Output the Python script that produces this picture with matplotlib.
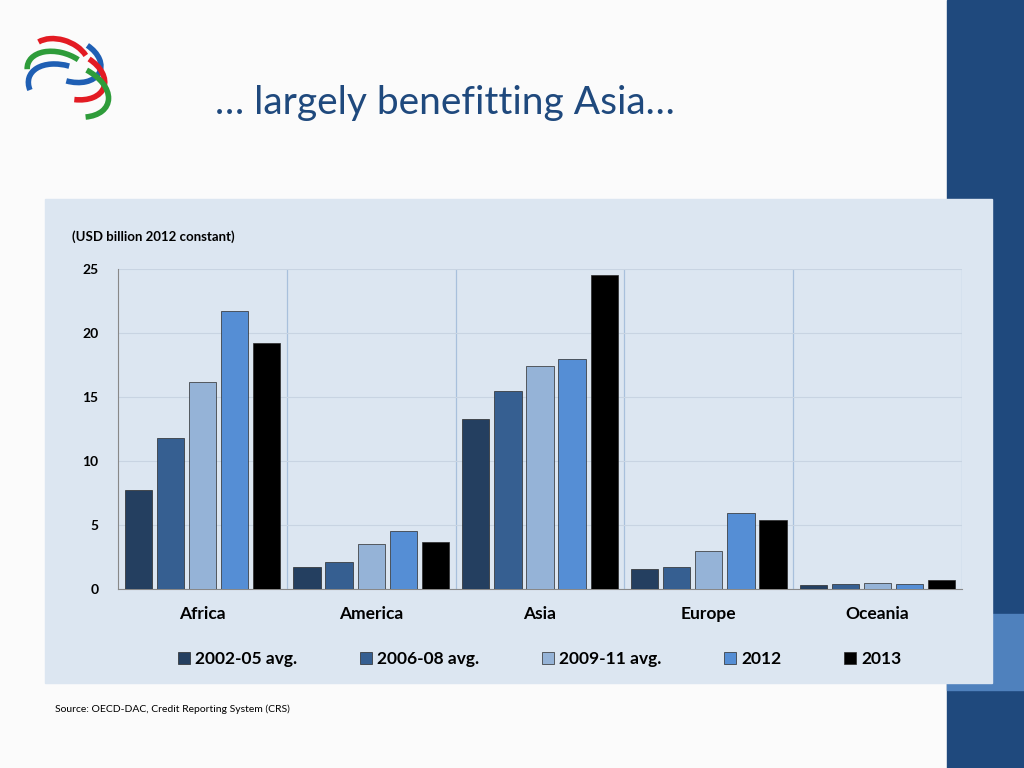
import matplotlib.pyplot as plt
import matplotlib.patches as mpatches
from matplotlib.patches import Arc
import numpy as np

regions = ["Africa", "America", "Asia", "Europe", "Oceania"]
series = ["2002-05 avg.", "2006-08 avg.", "2009-11 avg.", "2012", "2013"]
v_0205 = [7.7, 1.7, 13.3, 1.6, 0.3]
v_0608 = [11.8, 2.1, 15.5, 1.7, 0.4]
v_0911 = [16.2, 3.5, 17.4, 3.0, 0.5]
v_2012 = [21.7, 4.5, 18.0, 5.9, 0.4]
v_2013 = [19.2, 3.7, 24.5, 5.4, 0.7]
values = [v_0205, v_0608, v_0911, v_2012, v_2013]
colors = ["#243f60", "#365f91", "#95b3d7", "#558ed5", "#000000"]

plt.rcParams["font.family"] = "Lato"

W, H = 1024, 768
fig = plt.figure(figsize=(W/100, H/100), dpi=100)
fig.patch.set_facecolor("#fbfbfb")

def fx(x): return x / W
def fy(y): return 1 - y / H

# background shapes
fig.patches.extend([
    mpatches.Rectangle((fx(947), 0), fx(77), 1, color="#1f497d", transform=fig.transFigure, zorder=-5),
    mpatches.Rectangle((fx(947), fy(690)), fx(77), 76/H, color="#4f81bd", transform=fig.transFigure, zorder=-5),
    mpatches.Rectangle((fx(45), fy(683)), fx(947), 484/H, color="#dce6f1", transform=fig.transFigure, zorder=-5),
])

# logo (rough WTO swirl)
lax = fig.add_axes([fx(15), fy(130), 110/W, 110/H])
lax.set_xlim(0, 110); lax.set_ylim(110, 0); lax.axis("off")
arcs = [((45, 40), "#e31b23", 200, 330), ((55, 40), "#1f5fb4", 300, 80),
        ((45, 55), "#2e9c3a", 170, 300), ((55, 55), "#e31b23", 300, 60),
        ((50, 70), "#1f5fb4", 160, 260), ((55, 70), "#2e9c3a", 290, 40)]
for i, ((cx, cy), c, t1, t2) in enumerate(arcs):
    lax.add_patch(Arc((cx, cy), 60 + i * 4, 40 + i * 2, angle=20, theta1=t1, theta2=t2, color=c, lw=4))

fig.text(fx(215), fy(103), "… largely benefitting Asia…", fontsize=28, color="#1f497d",
         va="center")
fig.text(fx(72), fy(237), "(USD billion 2012 constant)", fontsize=9.5, fontweight="bold", va="center")
fig.text(fx(55), fy(709), "Source: OECD-DAC, Credit Reporting System (CRS)", fontsize=7.5, va="center")

ax = fig.add_axes([fx(118), fy(589), (962-118)/W, (589-269)/H])
ax.set_facecolor("none")
x = np.arange(len(regions))
bw = 0.19
for i, (s, vals) in enumerate(zip(series, values)):
    ax.bar(x + (i - 2) * bw, vals, bw * 0.85, color=colors[i], label=s, edgecolor="#2a2a2a", linewidth=0.5, zorder=3)
ax.set_xlim(-0.5, 4.5)
ax.set_ylim(0, 25)
ax.set_yticks([0, 5, 10, 15, 20, 25])
ax.grid(axis="y", color="#c8d4e2", lw=0.8, zorder=0)
for b in [0.5, 1.5, 2.5, 3.5, 4.5]:
    ax.axvline(b, color="#a8c0dc", lw=0.9, zorder=1)
for sp in ["top", "right"]:
    ax.spines[sp].set_visible(False)
ax.spines["left"].set_color("#888888")
ax.spines["bottom"].set_color("#888888")
ax.set_xticks(x)
ax.set_xticklabels(regions, fontsize=12.5, fontweight="bold")
ax.tick_params(axis="x", length=0, pad=12)
ax.tick_params(axis="y", labelsize=10, length=0, pad=14)
for t in ax.get_yticklabels():
    t.set_fontweight("bold")
ax.legend(loc="upper center", bbox_to_anchor=(0.5, -0.145), ncol=5, frameon=False,
          prop={"weight": "bold", "size": 12.5}, handlelength=0.7, handleheight=0.7,
          columnspacing=3.6, handletextpad=0.3)

fig.savefig("out.png", dpi=100, facecolor=fig.get_facecolor())
